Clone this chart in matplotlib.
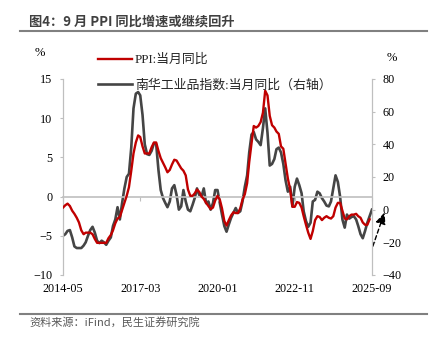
#!/usr/bin/env python3

import pandas as pd
import matplotlib
matplotlib.use("Agg")
import matplotlib.pyplot as plt
from matplotlib.lines import Line2D
from matplotlib.font_manager import FontProperties

## DATA
# PPI 当月同比 (%), 2014-05 .. 2025-08
ppi = [
    -1.4, -1.1, -0.9, -1.2, -1.8, -2.2, -2.7, -3.3,
    -4.3, -4.8, -4.6, -4.6, -4.6, -4.8, -5.4, -5.9, -5.9, -5.9, -5.9, -5.9,
    -5.3, -4.9, -4.3, -3.4, -2.8, -2.6, -1.7, -0.8, 0.1, 1.2, 3.3, 5.5,
    6.9, 7.8, 7.6, 6.4, 5.5, 5.5, 5.5, 6.3, 6.9, 6.9, 5.8, 4.9,
    4.3, 3.7, 3.1, 3.4, 4.1, 4.7, 4.6, 4.1, 3.6, 3.3, 2.7, 0.9,
    0.1, 0.1, 0.4, 0.9, 0.6, 0.0, -0.3, -0.8, -1.2, -1.6, -1.4, -0.5,
    0.1, -0.4, -1.5, -3.1, -3.7, -3.0, -2.4, -2.0, -2.1, -2.1, -1.5, -0.4,
    0.3, 1.7, 4.4, 6.8, 9.0, 8.8, 9.0, 9.5, 10.7, 13.5, 12.9, 10.3,
    9.1, 8.8, 8.3, 8.0, 6.4, 6.1, 4.2, 2.3, 0.9, -1.3, -1.3, -0.7,
    -0.8, -1.4, -2.5, -3.6, -4.6, -5.4, -4.4, -3.0, -2.5, -2.6, -3.0, -2.7,
    -2.5, -2.7, -2.8, -2.5, -1.4, -0.8, -0.8, -1.8, -2.8, -2.9, -2.5, -2.3,
    -2.3, -2.2, -2.5, -2.7, -3.3, -3.6, -3.6, -2.9,
]

# 南华工业品指数 当月同比 (%), 2014-05 .. 2025-09
nanhua = [
    -16.0, -15.0, -13.0, -12.5, -17.0, -22.5, -23.5, -23.5, -23.5, -22.0,
    -20.0, -16.0, -12.5, -10.5, -14.0, -19.0, -20.5, -19.0, -20.0, -21.5,
    -19.0, -17.0, -10.0, -6.0, 1.5, -6.0, 4.0, 13.0, 20.0, 22.0,
    38.0, 62.0, 71.0, 72.0, 70.0, 58.0, 40.0, 34.0, 33.5, 36.0,
    40.7, 40.0, 24.0, 12.0, 7.0, 4.0, 1.5, 5.0, 13.0, 15.0,
    9.0, 0.0, 2.0, 12.0, 5.0, 0.0, -1.0, 3.0, 7.0, 13.0,
    9.0, 8.0, 13.0, 4.0, 5.0, 0.0, 4.0, 12.0, 12.0, 4.0,
    -3.0, -10.0, -13.5, -9.0, -5.0, -2.0, 1.0, -2.0, -1.0, 5.0,
    14.0, 21.0, 35.0, 46.0, 47.5, 43.0, 41.5, 39.5, 50.0, 62.0,
    47.0, 27.0, 28.0, 31.0, 37.0, 38.0, 35.0, 28.0, 18.0, 11.0,
    14.0, 2.0, 14.0, 19.0, 15.0, 10.0, -1.0, -7.0, -10.5, -8.0,
    5.0, 6.0, 11.0, 10.0, 7.0, 5.0, 2.5, 2.0, 5.0, 13.0,
    21.0, 17.0, 8.0, -6.0, -11.0, -3.0, -5.5, -4.5, -4.0, -6.0,
    -10.0, -15.0, -17.5, -13.0, -8.0, -4.0, 0.0,
]

ppi_dates = pd.date_range("2014-05-01", periods=len(ppi), freq="MS")
nh_dates = pd.date_range("2014-05-01", periods=len(nanhua), freq="MS")
tick_dates = nh_dates[::34]

## STYLE
red = "#c00000"
grey = "#454545"
axis_grey = "#bfbfbf"
serif = "Liberation Serif"
cjk = "Noto Sans CJK SC"

fig = plt.figure(figsize=(4.33, 3.4), dpi=100)
ax = fig.add_axes([0.1455, 0.1912, 0.7135, 0.5765])
ax2 = ax.twinx()

ax.plot(ppi_dates, ppi, color=red, lw=1.7, zorder=3)
ax2.plot(nh_dates, nanhua, color=grey, lw=1.9, zorder=2)
ax.set_zorder(ax2.get_zorder() + 1)
ax.patch.set_visible(False)

ax.set_xlim(nh_dates[0], nh_dates[-1])
ax.set_ylim(-10, 15)
ax2.set_ylim(-40, 80)
ax.set_yticks(range(-10, 16, 5))
ax2.set_yticks(range(-40, 81, 20))

# x axis sits on the zero line, labels stay at the bottom
for a in (ax, ax2):
    a.spines["top"].set_visible(False)
    a.spines["left"].set_color(axis_grey)
    a.spines["right"].set_color(axis_grey)
ax2.spines["bottom"].set_visible(False)
ax.spines["bottom"].set_position(("data", 0))
ax.spines["bottom"].set_color(axis_grey)
ax.spines["bottom"].set_linewidth(1.2)

ax.set_xticks(tick_dates)
ax.set_xticklabels([d.strftime("%Y-%m") for d in tick_dates])
ax.tick_params(axis="x", direction="out", length=3, color=axis_grey, pad=59.5,
               labelsize=8.7)
ax.tick_params(axis="y", direction="out", length=2.5, color=axis_grey, pad=5,
               labelsize=8.7)
ax2.tick_params(axis="y", direction="out", length=2.5, color=axis_grey, pad=5,
                labelsize=8.7)
for lab in ax.get_xticklabels() + ax.get_yticklabels() + ax2.get_yticklabels():
    lab.set_fontfamily(serif)

# units
fig.text(40 / 433, 1 - 53 / 340, "%", family=serif, fontsize=9, ha="center", va="center")
fig.text(392 / 433, 1 - 58 / 340, "%", family=serif, fontsize=9, ha="center", va="center")

# legend
handles = [Line2D([], [], color=red, lw=1.7), Line2D([], [], color=grey, lw=1.9)]
labels = ["PPI:当月同比", "南华工业品指数:当月同比（右轴）"]
leg = fig.legend(handles, labels, loc="upper left", bbox_to_anchor=(0.215, 0.857),
                 frameon=False, handlelength=2.6, handletextpad=0.25,
                 labelspacing=1.0, borderaxespad=0,
                 prop=FontProperties(family=[serif, cjk], size=9.3))
for t in leg.get_texts():
    t.set_color("#262626")

# dashed arrow past the last point
ax2.annotate("", xy=(pd.Timestamp("2026-03-01"), 0), xytext=(nh_dates[-1], -24),
             annotation_clip=False,
             arrowprops=dict(arrowstyle="-|>,head_length=0.7,head_width=0.3",
                             ls=(0, (3, 2)), lw=1.0, color="black"))

# title, rules and source
fig.text(29 / 433, 1 - 21.5 / 340, "图4：9 月 PPI 同比增速或继续回升", family=cjk,
         fontsize=9.5, weight="bold", color="#404040", va="center")
fig.add_artist(Line2D([20 / 433, 427 / 433], [1 - 30.7 / 340] * 2, color="#808080", lw=1.5))
fig.add_artist(Line2D([20 / 433, 427 / 433], [1 - 314 / 340] * 2, color="#808080", lw=1.5))
fig.text(29 / 433, 1 - 322.5 / 340, "资料来源：iFind，民生证券研究院", family=cjk,
         fontsize=8, color="#595959", va="center")

fig.savefig("out.png", dpi=100)
